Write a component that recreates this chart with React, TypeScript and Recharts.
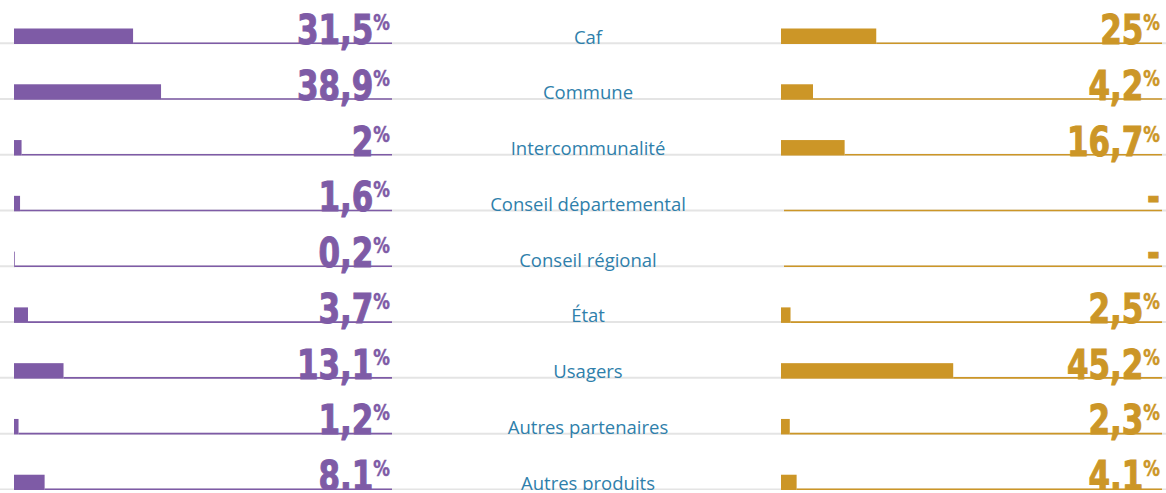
import { BarChart, Bar, XAxis, YAxis } from "recharts";

const categories = [
  "Caf",
  "Commune",
  "Intercommunalité",
  "Conseil départemental",
  "Conseil régional",
  "État",
  "Usagers",
  "Autres partenaires",
  "Autres produits",
];
const leftValues = [31.5, 38.9, 2, 1.6, 0.2, 3.7, 13.1, 1.2, 8.1];
// labels shown on the right panel ("-" = no value)
const rightValues: (number | null)[] = [25, 4.2, 16.7, null, null, 2.5, 45.2, 2.3, 4.1];
// bar lengths as drawn in the source picture (Commune's bar is drawn about twice its label)
const rightBars = [25, 8.4, 16.7, 0, 0, 2.5, 45.2, 2.3, 4.1];

const data = categories.map((name, i) => ({
  name,
  left: leftValues[i],
  leftLabel: leftValues[i],
  right: rightBars[i],
  rightLabel: rightValues[i],
}));

const W = 1166;
const H = 502;
const TOP = -12;
const PURPLE = "#7e5ba6";
const GOLD = "#cc9627";
const BLUE = "#2f7fab";
const NUM_FONT = "'DejaVu Sans Condensed', 'DejaVu Sans', sans-serif";

const fmt = (v: number | null) => (v == null ? "-" : String(v).replace(".", ","));

function makeShape(color: string, side: "left" | "right") {
  return (props: any) => {
    const { x, y, width, height, background, payload } = props;
    const bottom = y + height;
    const endX = background.x + background.width;
    const text = fmt(side === "left" ? payload.leftLabel : payload.rightLabel);
    const lineStart = width > 0.5 ? x + width : x + 3;
    return (
      <g>
        {side === "left" && (
          <>
            <line x1={0} x2={W} y1={bottom - 0.8} y2={bottom - 0.8} stroke="#e4e4e4" strokeWidth={2} />
            <text
              x={588}
              y={bottom - 0.5}
              textAnchor="middle"
              fill={BLUE}
              fontFamily="'Open Sans', sans-serif"
              fontSize={18.5}
            >
              {payload.name}
            </text>
          </>
        )}
        <rect x={x} y={bottom - 15.5} width={Math.max(width, 0)} height={15.5} fill={color} />
        <line x1={lineStart} x2={endX} y1={bottom - 0.8} y2={bottom - 0.8} stroke={color} strokeWidth={1.6} />
        <g transform={`translate(${endX - 2},${bottom}) scale(0.84,1)`}>
          <text
            x={0}
            y={0}
            textAnchor="end"
            fill={color}
            stroke={color}
            strokeWidth={1}
            fontFamily={NUM_FONT}
            fontWeight={700}
            fontSize={41}
          >
            {text}
            {text !== "-" && (
              <tspan fontSize={22} dy={-14} strokeWidth={0.5}>
                %
              </tspan>
            )}
          </text>
        </g>
      </g>
    );
  };
}

export default function App() {
  return (
    <div style={{ position: "absolute", left: 0, top: 0, width: W, height: 493, overflow: "hidden", background: "#fff" }}>
      <div style={{ position: "absolute", left: 0, top: TOP }}>
        <BarChart
          width={W}
          height={H}
          data={data}
          layout="vertical"
          barCategoryGap={0}
          margin={{ top: 0, right: W - 392, bottom: 0, left: 14 }}
        >
          <XAxis type="number" domain={[0, 100]} hide />
          <YAxis type="category" dataKey="name" hide />
          <Bar dataKey="left" fill={PURPLE} shape={makeShape(PURPLE, "left")} isAnimationActive={false} />
        </BarChart>
      </div>
      <div style={{ position: "absolute", left: 0, top: TOP }}>
        <BarChart
          width={W}
          height={H}
          data={data}
          layout="vertical"
          barCategoryGap={0}
          margin={{ top: 0, right: W - 1162, bottom: 0, left: 781 }}
        >
          <XAxis type="number" domain={[0, 100]} hide />
          <YAxis type="category" dataKey="name" hide />
          <Bar dataKey="right" fill={GOLD} shape={makeShape(GOLD, "right")} isAnimationActive={false} />
        </BarChart>
      </div>
    </div>
  );
}
